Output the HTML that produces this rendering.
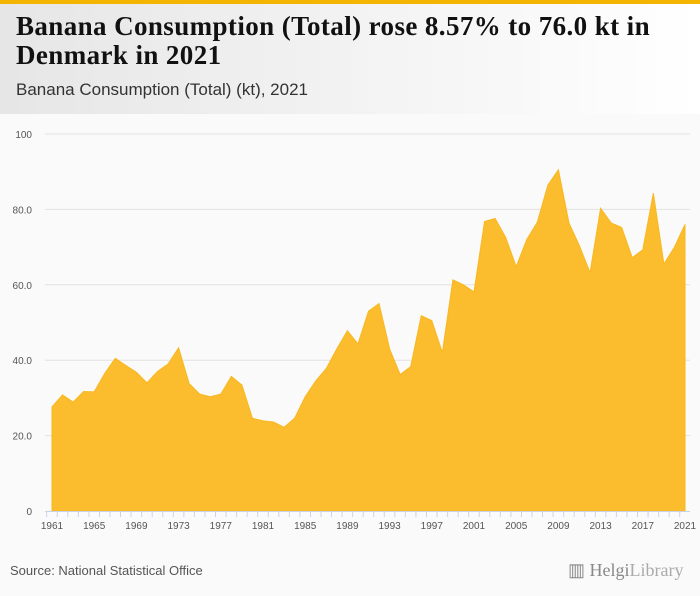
<!DOCTYPE html>
<html><head><meta charset="utf-8"><style>
body{margin:0;width:700px;height:596px;overflow:hidden;font-family:"Liberation Sans",sans-serif;background:#fafafa;}
#hdr{position:absolute;left:0;top:0;width:700px;height:114px;background:linear-gradient(90deg,#e6e6e6,#ffffff);border-top:4px solid #f5b400;box-sizing:border-box;}
#title{position:absolute;left:16px;top:12px;font-family:"Liberation Serif",serif;font-weight:bold;font-size:27px;line-height:29px;color:#111;width:665px;letter-spacing:0.4px;}
#sub{position:absolute;left:16px;top:80px;font-size:17px;color:#333;}
#src{position:absolute;left:10px;top:563px;font-size:13px;color:#555;}
#logo{position:absolute;left:568px;top:560px;font-family:"Liberation Serif",serif;font-size:18px;color:#888;}
</style></head><body>
<div id="hdr"></div>
<div id="title">Banana Consumption (Total) rose 8.57% to 76.0 kt in Denmark in 2021</div>
<div id="sub">Banana Consumption (Total) (kt), 2021</div>
<svg id="chart" width="700" height="596" style="position:absolute;left:0;top:0"></svg>
<div id="src">Source: National Statistical Office</div>
<div id="logo">▥ Helgi<span style="font-weight:normal;color:#aaa">Library</span></div>
<script>
const years=[];for(let y=1961;y<=2021;y++)years.push(y);
const values=[27.6,30.8,28.9,31.7,31.6,36.5,40.5,38.6,36.8,34.0,37.0,39.0,43.3,33.8,31.0,30.3,31.0,35.7,33.4,24.6,23.9,23.6,22.2,24.6,30.3,34.5,37.8,43.0,47.8,44.3,53.0,55.0,43.0,36.2,38.3,51.8,50.5,42.0,61.3,60.0,58.1,76.8,77.6,72.6,64.8,72.0,76.6,86.4,90.5,76.4,70.3,63.2,80.3,76.4,75.2,67.2,69.3,84.3,65.5,70.0,76.0];
const yTicks=[0,20,40,60,80,100];
const yTickLabels=["0","20.0","40.0","60.0","80.0","100"];
const NS='http://www.w3.org/2000/svg';
const svg=document.getElementById('chart');
const x=y=>52+(y-1961)*(685-52)/60;
const yv=v=>511-v*3.77;
function mk(t,a){const e=document.createElementNS(NS,t);for(const k in a)e.setAttribute(k,a[k]);svg.appendChild(e);return e;}
yTicks.forEach((t,i)=>{
 if(t>0){const g=mk('line',{x1:45,x2:690,y1:yv(t),y2:yv(t),stroke:'#e2e2e2'});
 
 }
 const l=mk('text',{x:32,y:yv(t)+4,'text-anchor':'end','font-size':'10',fill:'#555','font-family':'Liberation Sans'});
 l.textContent=yTickLabels[i];
 
 
});
let d='M'+x(years[0])+','+yv(0);
years.forEach((y,i)=>{d+=' L'+x(y)+','+yv(values[i]);});
d+=' L'+x(years[years.length-1])+','+yv(0)+' Z';
const a=mk('path',{d:d,fill:'#fbbc2e',stroke:'#f8b820','stroke-width':'1'});


const ax=mk('line',{x1:45,x2:690,y1:511.5,y2:511.5,stroke:'#c8d4e6'});


years.forEach(y=>{
 const tx=x(y)-5.3;
 const t=mk('line',{x1:tx,x2:tx,y1:511,y2:517,stroke:'#c8d4e6'});
 
 
 if((y-1961)%4===0){
  const l=mk('text',{x:x(y),y:529,'text-anchor':'middle','font-size':'10',fill:'#555','font-family':'Liberation Sans'});
  l.textContent=y;
  
  
 }
});
</script>
</body></html>
